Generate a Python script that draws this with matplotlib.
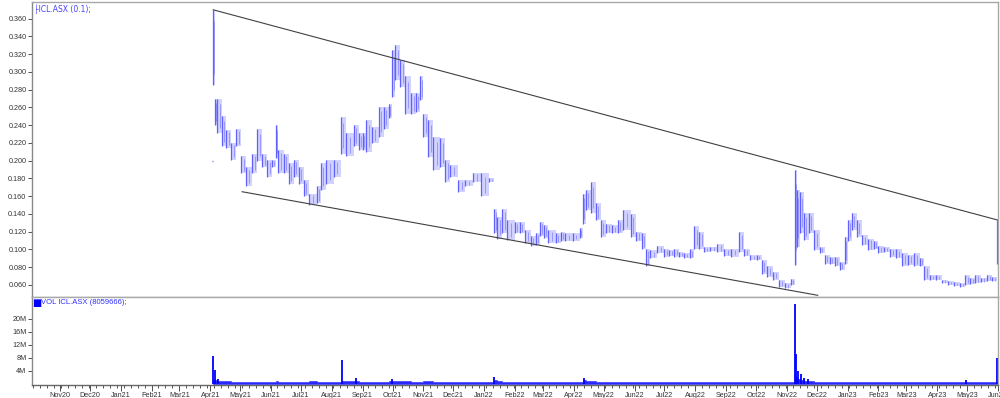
import numpy as np
import pandas as pd
import matplotlib
matplotlib.use("Agg")
import matplotlib.pyplot as plt
import matplotlib.dates as mdates
from matplotlib.ticker import FixedLocator, FuncFormatter

# ------------------- datos -------------------
fechas = [
    "2021-04-04", "2021-04-06", "2021-04-08", "2021-04-13", "2021-04-17", "2021-04-22", "2021-04-27",
    "2021-05-02", "2021-05-07", "2021-05-13", "2021-05-18", "2021-05-23", "2021-05-28",
    "2021-06-02", "2021-06-06", "2021-06-08", "2021-06-14", "2021-06-19", "2021-06-24", "2021-06-29",
    "2021-07-04", "2021-07-09", "2021-07-17", "2021-07-21", "2021-07-26",
    "2021-08-03", "2021-08-10", "2021-08-15", "2021-08-23", "2021-08-28",
    "2021-09-01", "2021-09-04", "2021-09-10", "2021-09-17", "2021-09-22", "2021-09-27", "2021-09-30",
    "2021-10-04", "2021-10-09", "2021-10-14", "2021-10-20", "2021-10-25", "2021-10-29",
    "2021-11-01", "2021-11-06", "2021-11-11", "2021-11-18", "2021-11-23", "2021-11-28",
    "2021-12-06", "2021-12-13", "2021-12-21", "2021-12-29",
    "2022-01-06", "2022-01-11", "2022-01-14", "2022-01-19", "2022-01-24",
    "2022-02-01", "2022-02-06", "2022-02-11", "2022-02-17", "2022-02-22", "2022-02-26",
    "2022-03-02", "2022-03-06", "2022-03-14", "2022-03-19", "2022-03-23", "2022-03-31",
    "2022-04-07", "2022-04-10", "2022-04-13", "2022-04-18", "2022-04-23", "2022-04-28",
    "2022-05-03", "2022-05-09", "2022-05-15", "2022-05-20", "2022-05-28",
    "2022-06-02", "2022-06-09", "2022-06-13", "2022-06-17", "2022-06-24",
    "2022-07-01", "2022-07-06", "2022-07-11", "2022-07-16", "2022-07-21", "2022-07-27", "2022-07-31",
    "2022-08-05", "2022-08-10", "2022-08-16", "2022-08-23", "2022-08-30",
    "2022-09-06", "2022-09-14", "2022-09-19", "2022-09-25",
    "2022-10-02", "2022-10-07", "2022-10-12", "2022-10-18", "2022-10-24", "2022-10-30",
    "2022-11-05", "2022-11-09", "2022-11-11", "2022-11-14", "2022-11-18", "2022-11-23", "2022-11-28",
    "2022-12-04", "2022-12-09", "2022-12-14", "2022-12-19", "2022-12-24", "2022-12-29",
    "2023-01-01", "2023-01-05", "2023-01-10", "2023-01-15", "2023-01-21", "2023-01-27",
    "2023-02-01", "2023-02-07", "2023-02-13", "2023-02-19", "2023-02-25",
    "2023-03-03", "2023-03-09", "2023-03-15", "2023-03-19", "2023-03-25", "2023-03-31",
    "2023-04-06", "2023-04-12", "2023-04-18", "2023-04-24", "2023-04-29",
    "2023-05-04", "2023-05-09", "2023-05-15", "2023-05-21", "2023-05-26", "2023-05-31",
]

maximos = [
    .370, .270, .270, .250, .235, .220, .236,
    .205, .193, .208, .236, .208, .201,
    .201, .240, .212, .208, .197, .201, .193,
    .178, .163, .171, .197, .201,
    .201, .249, .231, .240, .231,
    .231, .246, .238, .261, .261, .264, .325,
    .330, .313, .295, .276, .276, .295,
    .253, .246, .227, .225, .201, .195,
    .178, .178, .186, .186,
    .180, .146, .137, .146, .133,
    .131, .131, .122, .115, .118, .131,
    .127, .122, .118, .120, .118, .118,
    .124, .163, .167, .176, .152, .133,
    .129, .127, .133, .144, .140,
    .120, .118, .101, .099, .104,
    .101, .099, .100, .097, .096, .100, .126,
    .120, .103, .103, .106, .101,
    .100, .120, .101, .094,
    .094, .088, .081, .075, .066, .062,
    .067, .190, .167, .165, .141, .141, .122,
    .103, .094, .092, .092, .086, .114,
    .133, .141, .133, .116, .112, .110,
    .104, .103, .101, .100, .096,
    .094, .096, .090, .081, .071, .071,
    .066, .064, .063, .062, .071,
    .068, .071, .068, .071, .069, .133,
]

minimos = [
    .285, .240, .231, .216, .214, .201, .216,
    .186, .171, .186, .200, .193, .182,
    .193, .203, .186, .186, .174, .182, .174,
    .160, .150, .152, .167, .174,
    .182, .208, .205, .216, .212,
    .212, .210, .220, .227, .236, .248, .272,
    .291, .283, .253, .253, .255, .268,
    .227, .204, .189, .193, .176, .182,
    .165, .171, .176, .160,
    .176, .118, .112, .118, .111,
    .118, .118, .107, .104, .105, .115,
    .113, .107, .107, .110, .109, .110,
    .113, .129, .144, .141, .133, .114,
    .118, .118, .118, .122, .114,
    .109, .100, .081, .090, .096,
    .092, .093, .092, .092, .090, .090, .101,
    .101, .097, .098, .097, .093,
    .092, .097, .093, .088,
    .088, .072, .069, .066, .058, .056,
    .060, .083, .103, .118, .111, .118, .099,
    .096, .084, .084, .081, .077, .084,
    .110, .122, .114, .105, .099, .100,
    .096, .097, .092, .090, .081,
    .083, .081, .081, .066, .066, .066,
    .062, .060, .059, .058, .060,
    .061, .062, .063, .064, .064, .084,
]

apertura_inicial = 0.200  # tick suelto a la izquierda de la primera barra

# volumen base por periodo (millones)
vol_base = [
    1.2, 1.0, 0.8, 0.7, 0.7, 0.6, 0.6,
    0.5, 0.5, 0.5, 0.5, 0.5, 0.5,
    0.5, 0.7, 0.5, 0.5, 0.6, 0.5, 0.5,
    0.6, 0.7, 0.6, 0.5, 0.5,
    0.6, 0.9, 0.7, 0.8, 0.6,
    0.5, 0.6, 0.5, 0.5, 0.6, 0.7, 0.9,
    0.9, 0.8, 0.7, 0.6, 0.5, 0.6,
    0.9, 0.7, 0.6, 0.5, 0.5, 0.5,
    0.5, 0.5, 0.4, 0.5,
    0.4, 1.0, 0.7, 0.6, 0.6,
    0.5, 0.5, 0.5, 0.5, 0.5, 0.5,
    0.6, 0.5, 0.5, 0.5, 0.5, 0.5,
    0.5, 1.0, 0.8, 0.7, 0.6, 0.5,
    0.5, 0.5, 0.5, 0.5, 0.5,
    0.5, 0.5, 0.6, 0.5, 0.5,
    0.4, 0.4, 0.4, 0.4, 0.4, 0.4, 0.6,
    0.5, 0.5, 0.4, 0.4, 0.4,
    0.4, 0.5, 0.4, 0.4,
    0.4, 0.5, 0.5, 0.6, 0.5, 0.5,
    0.5, 2.0, 1.5, 1.2, 0.9, 0.8, 0.6,
    0.5, 0.5, 0.5, 0.4, 0.4, 0.5,
    0.5, 0.5, 0.5, 0.5, 0.5, 0.5,
    0.5, 0.5, 0.5, 0.5, 0.5,
    0.5, 0.5, 0.4, 0.5, 0.4, 0.4,
    0.4, 0.4, 0.4, 0.4, 0.5,
    0.6, 0.5, 0.4, 0.4, 0.4, 0.4,
]

# picos de volumen (dias sueltos)
picos_fechas = ["2021-04-04", "2021-04-06", "2021-04-09", "2021-08-11", "2021-08-25",
                "2021-09-30", "2022-01-11", "2022-04-11", "2022-11-09", "2022-11-10",
                "2022-11-12", "2022-11-15", "2022-11-18", "2022-11-22", "2023-04-30",
                "2023-05-31"]
picos_vol = [8.6, 4.1, 1.6, 7.2, 1.8, 1.5, 2.2, 1.9, 24.6, 9.2, 3.8, 3.0, 1.8, 1.3, 1.0, 8.059666]

# lineas de tendencia (fecha, precio)
linea_sup = [("2021-04-04", 0.370), ("2023-06-01", 0.133)]
linea_inf = [("2021-05-03", 0.165), ("2022-12-02", 0.0483)]

precio_ticks = [0.06, 0.08, 0.10, 0.12, 0.14, 0.16, 0.18, 0.20, 0.22, 0.24, 0.26, 0.28, 0.30, 0.32, 0.34, 0.36]
vol_ticks = [4, 8, 12, 16, 20]

# ------------------- figura -------------------
plt.rcParams['font.family'] = ['Liberation Sans', 'DejaVu Sans']
fig = plt.figure(figsize=(10, 3.98), dpi=100)
ax = fig.add_axes([0.032, 0.2538, 0.966, 0.7412])
axv = fig.add_axes([0.032, 0.0327, 0.966, 0.2211], sharex=ax)

d = mdates.date2num(pd.to_datetime(fechas))
ancho = np.append(np.diff(d), 1.0)
hi = np.array(maximos)
lo = np.array(minimos)

azul = "#6060ff"
azul_claro = "#d2d2ff"

ax.bar(d, hi - lo, bottom=lo, width=ancho, align="edge", color=azul_claro, lw=0)
ax.vlines(d, lo, hi, color=azul, lw=0.9)
ax.vlines(d + ancho * 0.5, lo + (hi - lo) * 0.15, hi - (hi - lo) * 0.15, color=azul, lw=0.6, alpha=0.6)
ax.hlines(apertura_inicial, d[0] - 1.5, d[0] - 0.5, color=azul, lw=1)

for linea in (linea_sup, linea_inf):
    xs = mdates.date2num(pd.to_datetime([p[0] for p in linea]))
    ys = [p[1] for p in linea]
    ax.plot(xs, ys, color="#404040", lw=0.8)

# volumen: banda base continua + picos diarios
vb = np.array(vol_base) * 1e6
axv.fill_between(np.append(d, d[-1] + 1), 0, np.append(vb, vb[-1]), step="post",
                 color="#2828ff", lw=0.4, edgecolor="#2828ff")
dp = mdates.date2num(pd.to_datetime(picos_fechas))
axv.vlines(dp, 0, np.array(picos_vol) * 1e6, color="#0000ff", lw=1.3)

# ejes
ax.set_xlim(mdates.date2num(pd.Timestamp("2020-10-04")), mdates.date2num(pd.Timestamp("2023-06-01")))
ax.set_ylim(0.0464, 0.3788)
axv.set_ylim(-0.4e6, 26.8e6)

ax.yaxis.set_major_locator(FixedLocator(precio_ticks))
ax.yaxis.set_major_formatter(FuncFormatter(lambda v, p: "%.3f" % v))
axv.yaxis.set_major_locator(FixedLocator([v * 1e6 for v in vol_ticks]))
axv.yaxis.set_major_formatter(FuncFormatter(lambda v, p: "%dM" % round(v / 1e6)))

axv.xaxis.set_major_locator(mdates.MonthLocator())
axv.xaxis.set_minor_locator(mdates.WeekdayLocator(byweekday=mdates.MO))
axv.xaxis.set_major_formatter(mdates.DateFormatter("%b%y"))
plt.setp(ax.get_xticklabels(), visible=False)
ax.tick_params(axis="x", length=0)

for a in (ax, axv):
    a.tick_params(axis="y", labelsize=5.2, length=3, width=0.6, colors="#333333", pad=1)
    for s in a.spines.values():
        s.set_color("#a8a8a8")
        s.set_linewidth(1.0)
    a.spines["left"].set_color("#888888")
axv.spines["bottom"].set_color("#666666")
axv.tick_params(axis="x", which="major", labelsize=5.2, length=4, width=0.6, colors="#333333", pad=1)
axv.tick_params(axis="x", which="minor", length=2, width=0.6, colors="#333333")

ax.text(0.002, 0.993, "\u251cICL.ASX (0.1);", transform=ax.transAxes, fontsize=5.5,
        color="#4040ff", va="top", ha="left", family=["DejaVu Sans"])
axv.text(0.0, 0.985, "\u25a0", transform=axv.transAxes, fontsize=7, color="#0000ff", va="top", ha="left",
         family=["DejaVu Sans"])
axv.text(0.009, 0.975, "VOL ICL.ASX (8059666);", transform=axv.transAxes, fontsize=5.5,
         color="#3030ff", va="top", ha="left")

fig.savefig("out.png", dpi=100)
